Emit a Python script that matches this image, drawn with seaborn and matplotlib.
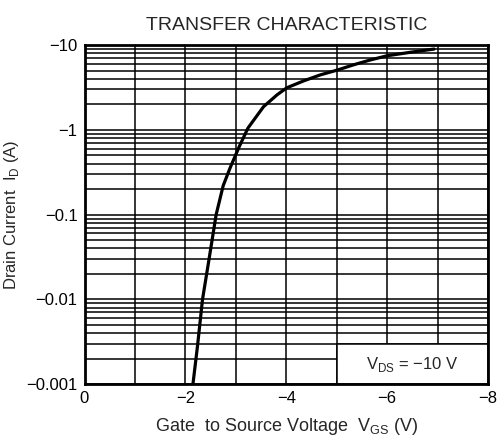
import numpy as np
import pandas as pd
import seaborn as sns
import matplotlib.pyplot as plt
from matplotlib.patches import Rectangle
from matplotlib.ticker import FixedLocator, LogLocator, NullFormatter

# Valores (VGS em V, |ID| em A)
vgs = [-2.15, -2.24, -2.34, -2.47, -2.61, -2.75, -2.89, -3.06, -3.24, -3.55,
       -3.82, -4.01, -4.35, -4.68, -5.01, -5.34, -5.67, -6.0, -6.47, -6.93]
id_abs = [0.001, 0.0028, 0.01, 0.030, 0.1, 0.22, 0.36, 0.62, 1.05, 1.88,
          2.6, 3.14, 3.8, 4.47, 5.08, 5.88, 6.7, 7.5, 8.26, 9.0]

x_ticks = [0, -2, -4, -6, -8]
x_labels = ['0', '\u22122', '\u22124', '\u22126', '\u22128']
y_ticks = [0.001, 0.01, 0.1, 1, 10]
y_labels = ['\u22120.001', '\u22120.01', '\u22120.1', '\u22121', '\u221210']

df = pd.DataFrame({'vgs': vgs, 'id': id_abs})

sns.set_style('white')
plt.rcParams['font.family'] = ['Liberation Sans', 'DejaVu Sans']
plt.rcParams['mathtext.fontset'] = 'custom'
plt.rcParams['mathtext.rm'] = 'Liberation Sans'

fig = plt.figure(figsize=(5, 4.43), dpi=100)
ax = fig.add_axes([0.169, 0.133, 0.807, 0.765])

sns.lineplot(x='vgs', y='id', data=df, ax=ax, color='black', linewidth=2.3,
             zorder=3, sort=False)

ax.set_yscale('log')
ax.set_xlim(0, -8)
ax.set_ylim(0.001, 10)

ax.xaxis.set_major_locator(FixedLocator(x_ticks))
ax.set_xticklabels(x_labels)
ax.xaxis.set_minor_locator(FixedLocator([-1, -3, -5, -7]))
ax.yaxis.set_major_locator(FixedLocator(y_ticks))
ax.set_yticklabels(y_labels)
ax.yaxis.set_minor_locator(LogLocator(base=10, subs=np.arange(2, 10)))
ax.yaxis.set_minor_formatter(NullFormatter())

ax.set_axisbelow(True)
ax.grid(True, which='both', color='black', linewidth=1.1)
ax.tick_params(which='both', length=0, labelsize=12, pad=5, colors='black')

for s in ax.spines.values():
    s.set_linewidth(2)
    s.set_color('black')
    s.set_zorder(4)

# caixa com a condição de teste
ax.add_patch(Rectangle((-5, 0.001), -3, 0.002, facecolor='white',
                       edgecolor='black', linewidth=1.1, zorder=2))
ax.text(-6.5, 0.0017, 'V$_\\mathregular{DS}$ = \u221210 V', fontsize=12,
        ha='center', va='center', zorder=3)

ax.set_title('TRANSFER CHARACTERISTIC', fontsize=14, pad=11)
ax.set_xlabel('Gate  to Source Voltage  V$_\\mathregular{GS}$ (V)', fontsize=13, labelpad=7)
ax.set_ylabel('Drain Current  I$_\\mathregular{D}$ (A)', fontsize=12, labelpad=4)

fig.savefig('out.png', dpi=100)
